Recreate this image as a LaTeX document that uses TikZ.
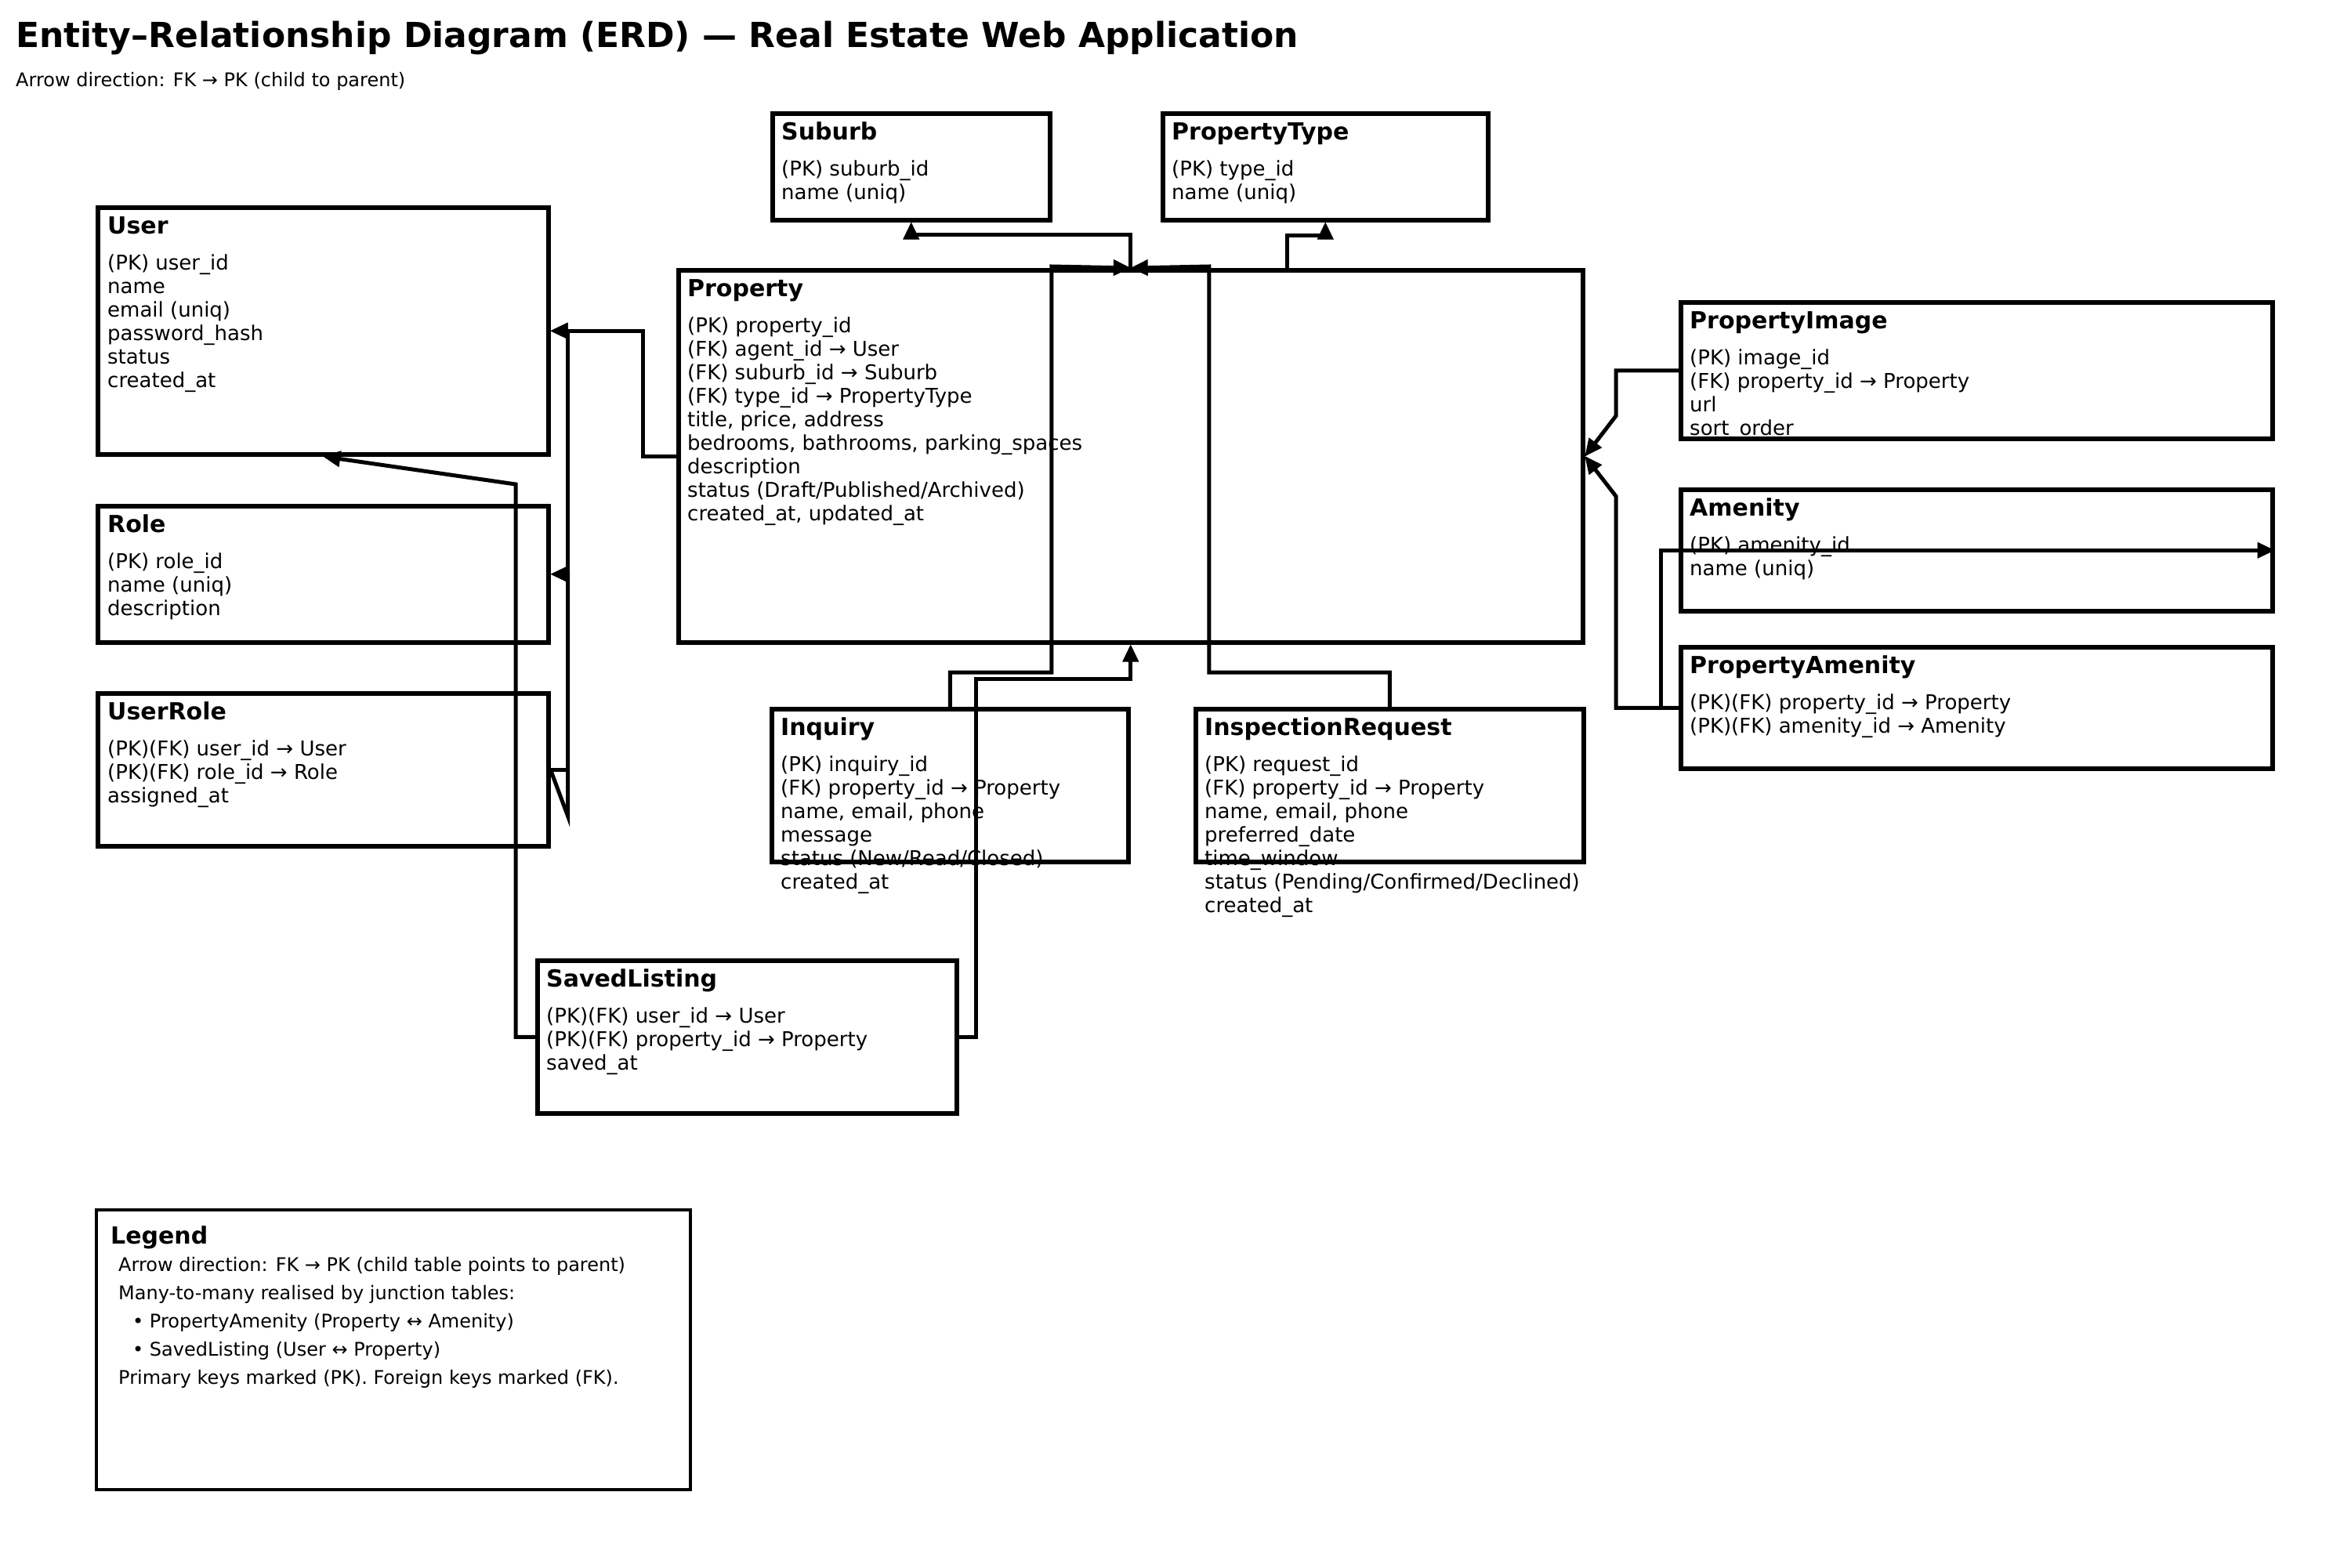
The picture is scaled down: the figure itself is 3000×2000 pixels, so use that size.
\documentclass[tikz,border=0pt]{standalone}
\usepackage{fontspec}
\setmainfont{DejaVu Sans}
\usetikzlibrary{arrows.meta,calc}
\newcommand\erattrs[1]{\begin{tabular}[t]{@{}l@{}}#1\end{tabular}}
\begin{document}
\begin{tikzpicture}[x=1pt,y=-1pt,
  ebox/.style={draw, line width=5.5pt, rectangle, inner sep=0pt, anchor=north west},
  lbox/.style={draw, line width=4pt, rectangle, inner sep=0pt, anchor=north west},
  ehead/.style={anchor=base west, inner sep=0pt, font=\fontsize{30}{36}\selectfont\bfseries},
  eattr/.style={anchor=base west, inner sep=0pt, font=\fontsize{26}{30}\selectfont},
  lattr/.style={anchor=base west, inner sep=0pt, font=\fontsize{24}{36}\selectfont},
  conn/.style={line width=5pt, -{Triangle[length=22pt,width=21pt,line width=1pt]}},
]
\useasboundingbox (0,0) rectangle (3000,2000);

% title
\node[anchor=base west, inner sep=0pt, font=\fontsize{44}{52}\selectfont\bfseries] (title) at (20,60) {Entity–Relationship Diagram (ERD) — Real Estate Web Application};
\node[anchor=base west, inner sep=0pt, font=\fontsize{24}{30}\selectfont] (subtitle) at (20,110) {Arrow direction: FK → PK (child to parent)};

% User
\node[ebox,minimum width=575pt,minimum height=315pt] (user) at (122,262) {};
\node[ehead] (user-h) at ($(user.north west)+(15,36)$) {User};
\node[eattr] (user-a) at ($(user.north west)+(15,82)$) {\erattrs{(PK) user\_id\\name\\email (uniq)\\password\_hash\\status\\created\_at}};

% Role
\node[ebox,minimum width=575pt,minimum height=174pt] (role) at (122,643) {};
\node[ehead] (role-h) at ($(role.north west)+(15,36)$) {Role};
\node[eattr] (role-a) at ($(role.north west)+(15,82)$) {\erattrs{(PK) role\_id\\name (uniq)\\description}};

% UserRole
\node[ebox,minimum width=575pt,minimum height=195pt] (urole) at (122,882) {};
\node[ehead] (urole-h) at ($(urole.north west)+(15,36)$) {UserRole};
\node[eattr] (urole-a) at ($(urole.north west)+(15,82)$) {\erattrs{(PK)(FK) user\_id → User\\(PK)(FK) role\_id → Role\\assigned\_at}};

% Property
\node[ebox,minimum width=1154pt,minimum height=475pt] (prop) at (863,342) {};
\node[ehead] (prop-h) at ($(prop.north west)+(14,36)$) {Property};
\node[eattr] (prop-a) at ($(prop.north west)+(14,82)$) {\erattrs{(PK) property\_id\\(FK) agent\_id → User\\(FK) suburb\_id → Suburb\\(FK) type\_id → PropertyType\\title, price, address\\bedrooms, bathrooms, parking\_spaces\\description\\status (Draft/Published/Archived)\\created\_at, updated\_at}};

% Suburb
\node[ebox,minimum width=354pt,minimum height=136pt] (sub) at (983,142) {};
\node[ehead] (sub-h) at ($(sub.north west)+(14,36)$) {Suburb};
\node[eattr] (sub-a) at ($(sub.north west)+(14,82)$) {\erattrs{(PK) suburb\_id\\name (uniq)}};

% PropertyType
\node[ebox,minimum width=415pt,minimum height=136pt] (ptype) at (1481,142) {};
\node[ehead] (ptype-h) at ($(ptype.north west)+(14,36)$) {PropertyType};
\node[eattr] (ptype-a) at ($(ptype.north west)+(14,82)$) {\erattrs{(PK) type\_id\\name (uniq)}};

% PropertyImage
\node[ebox,minimum width=755pt,minimum height=174pt] (pimg) at (2142,383) {};
\node[ehead] (pimg-h) at ($(pimg.north west)+(14,36)$) {PropertyImage};
\node[eattr] (pimg-a) at ($(pimg.north west)+(14,82)$) {\erattrs{(PK) image\_id\\(FK) property\_id → Property\\url\\sort\_order}};

% Amenity
\node[ebox,minimum width=755pt,minimum height=155pt] (amen) at (2142,622) {};
\node[ehead] (amen-h) at ($(amen.north west)+(14,36)$) {Amenity};
\node[eattr] (amen-a) at ($(amen.north west)+(14,82)$) {\erattrs{(PK) amenity\_id\\name (uniq)}};

% PropertyAmenity
\node[ebox,minimum width=755pt,minimum height=155pt] (pam) at (2142,823) {};
\node[ehead] (pam-h) at ($(pam.north west)+(14,36)$) {PropertyAmenity};
\node[eattr] (pam-a) at ($(pam.north west)+(14,82)$) {\erattrs{(PK)(FK) property\_id → Property\\(PK)(FK) amenity\_id → Amenity}};

% Inquiry
\node[ebox,minimum width=455pt,minimum height=195pt] (inq) at (982,902) {};
\node[ehead] (inq-h) at ($(inq.north west)+(14,36)$) {Inquiry};
\node[eattr] (inq-a) at ($(inq.north west)+(14,82)$) {\erattrs{(PK) inquiry\_id\\(FK) property\_id → Property\\name, email, phone\\message\\status (New/Read/Closed)\\created\_at}};

% InspectionRequest
\node[ebox,minimum width=495pt,minimum height=195pt] (insp) at (1523,902) {};
\node[ehead] (insp-h) at ($(insp.north west)+(14,36)$) {InspectionRequest};
\node[eattr] (insp-a) at ($(insp.north west)+(14,82)$) {\erattrs{(PK) request\_id\\(FK) property\_id → Property\\name, email, phone\\preferred\_date\\time\_window\\status (Pending/Confirmed/Declined)\\created\_at}};

% SavedListing
\node[ebox,minimum width=535pt,minimum height=195pt] (saved) at (683,1223) {};
\node[ehead] (saved-h) at ($(saved.north west)+(14,36)$) {SavedListing};
\node[eattr] (saved-a) at ($(saved.north west)+(14,82)$) {\erattrs{(PK)(FK) user\_id → User\\(PK)(FK) property\_id → Property\\saved\_at}};

% Legend
\node[lbox,minimum width=758pt,minimum height=357pt] (legend) at (121,1542) {};
\node[ehead] (legend-h) at ($(legend.north west)+(20,45)$) {Legend};
\node[lattr] (legend-a) at ($(legend.north west)+(30,80)$) {\erattrs{Arrow direction: FK → PK (child table points to parent)\\Many-to-many realised by junction tables:\\\hspace{18pt}• PropertyAmenity (Property ↔ Amenity)\\\hspace{18pt}• SavedListing (User ↔ Property)\\Primary keys marked (PK). Foreign keys marked (FK).}};

% connectors
\draw[conn] (prop.west) -- ++(-43,0) |- (user.east);
\draw[conn] (urole.east) -- ++(22,0) |- (user.east);
\draw[conn] (urole.east) -- ++(22,59) |- (role.east);
\draw[conn] (saved.west) -- ++(-25,0) -- (658,618) -- (user.south);
\draw[conn] (saved.east) -- ++(22,0) |- ($(prop.south)+(0,44)$) -- (prop.south);
\draw[conn] (inq.north) -- ++(0,-44) -| ($(prop.north)+(-101,-2)$) -- (prop.north);
\draw[conn] (insp.north) -- ++(0,-44) -| ($(prop.north)+(100,-2)$) -- (prop.north);
\draw[conn] (prop.north) -- ++(0,-43) -| (sub.south);
\draw[conn] ($(prop.north)+(200,0)$) -- ++(0,-42) -| (ptype.south);
\draw[conn] (pimg.west) -- ++(-80,0) -- ++(0,58) -- (prop.east);
\draw[conn] (pam.west) -- ++(-80,0) -- ++(0,-270) -- (prop.east);
\draw[conn] (pam.west) -- ++(-23,0) |- (amen.east);
\end{tikzpicture}
\end{document}
